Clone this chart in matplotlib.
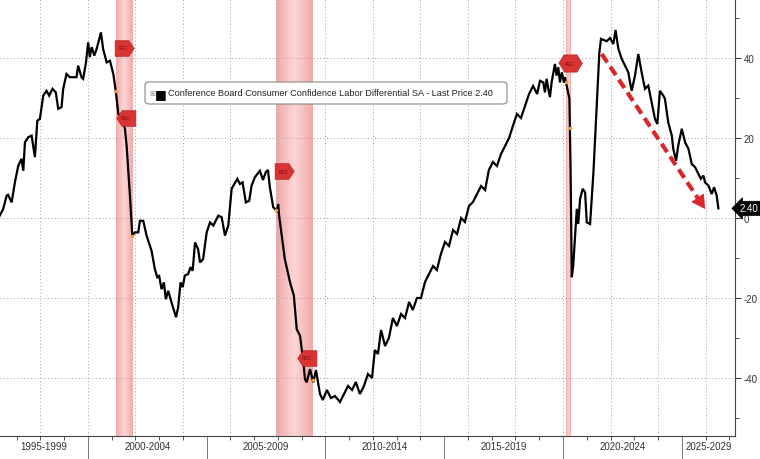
import matplotlib.pyplot as plt
import matplotlib.transforms as mtransforms
from matplotlib.colors import LinearSegmentedColormap
from matplotlib.patches import FancyBboxPatch
import numpy as np

plt.rcParams['font.family'] = ['Liberation Sans', 'DejaVu Sans']
plt.rcParams['axes.unicode_minus'] = False

# monthly-ish readings (decimal years, index points)
dates = [
    1996.29, 1996.43, 1996.58, 1996.64, 1996.79, 1996.93, 1997.07, 1997.21, 1997.28, 1997.35,
    1997.49, 1997.63, 1997.77, 1997.87, 1997.98, 1998.12, 1998.26, 1998.37, 1998.51, 1998.65,
    1998.75, 1998.89, 1998.96, 1999.10, 1999.24, 1999.52, 1999.59, 1999.73, 1999.80, 1999.92,
    2000.01, 2000.08, 2000.16, 2000.27, 2000.37, 2000.55, 2000.64, 2000.79, 2000.93, 2001.07,
    2001.18, 2001.28, 2001.42, 2001.56, 2001.63, 2001.77, 2001.87, 2001.98, 2002.12, 2002.19,
    2002.33, 2002.47, 2002.68, 2002.82, 2002.92, 2003.00, 2003.10, 2003.20, 2003.28, 2003.38,
    2003.52, 2003.71, 2003.80, 2003.90, 2003.99, 2004.08, 2004.22, 2004.32, 2004.41, 2004.51,
    2004.64, 2004.72, 2004.85, 2005.00, 2005.14, 2005.28, 2005.49, 2005.63, 2005.77, 2005.91,
    2006.05, 2006.29, 2006.40, 2006.51, 2006.65, 2006.79, 2006.89, 2007.03, 2007.24, 2007.37,
    2007.49, 2007.58, 2007.66, 2007.80, 2007.95, 2008.01, 2008.05, 2008.16, 2008.29, 2008.51,
    2008.67, 2008.79, 2008.93, 2009.07, 2009.14, 2009.21, 2009.35, 2009.49, 2009.60, 2009.77,
    2009.89, 2010.06, 2010.23, 2010.40, 2010.61, 2010.78, 2010.95, 2011.12, 2011.28, 2011.45,
    2011.62, 2011.79, 2011.96, 2012.08, 2012.21, 2012.34, 2012.51, 2012.67, 2012.84, 2013.01,
    2013.18, 2013.35, 2013.52, 2013.68, 2013.85, 2014.02, 2014.19, 2014.36, 2014.53, 2014.69,
    2014.86, 2015.03, 2015.20, 2015.37, 2015.54, 2015.71, 2015.87, 2016.04, 2016.21, 2016.38,
    2016.55, 2016.72, 2016.88, 2017.05, 2017.22, 2017.39, 2017.56, 2017.73, 2017.89, 2018.06,
    2018.23, 2018.40, 2018.57, 2018.74, 2018.91, 2019.03, 2019.17, 2019.24, 2019.31, 2019.38,
    2019.45, 2019.52, 2019.66, 2019.73, 2019.80, 2019.87, 2019.95, 2020.04, 2020.08, 2020.18,
    2020.27, 2020.32, 2020.37, 2020.43, 2020.58, 2020.64, 2020.72, 2020.83, 2020.93, 2021.00,
    2021.14, 2021.28, 2021.42, 2021.53, 2021.60, 2021.71, 2021.84, 2021.98, 2022.12, 2022.21,
    2022.33, 2022.47, 2022.61, 2022.75, 2022.82, 2022.89, 2023.03, 2023.17, 2023.31, 2023.45,
    2023.59, 2023.73, 2023.87, 2023.97, 2024.08, 2024.22, 2024.29, 2024.43, 2024.58, 2024.64,
    2024.76, 2024.85, 2025.00, 2025.14, 2025.28, 2025.42, 2025.56, 2025.70, 2025.80, 2025.91,
    2025.98, 2026.12, 2026.26, 2026.36, 2026.47, 2026.54,
]
values = [
    0.6, 2.2, 5.6, 5.8, 3.9, 9.0, 13.1, 14.8, 11.8, 18.9,
    20.2, 20.6, 15.2, 24.3, 24.8, 30.6, 31.8, 30.6, 32.3, 31.4,
    27.3, 27.7, 32.3, 36.0, 35.2, 35.2, 38.1, 35.2, 34.8, 38.9,
    43.9, 40.2, 42.7, 40.6, 42.3, 46.4, 42.3, 38.9, 39.3, 36.0,
    31.4, 26.0, 25.2, 22.3, 18.1, 5.6, -4.4, -3.6, -3.6, -0.7,
    -0.7, -4.4, -8.2, -12.8, -14.8, -14.5, -17.8, -16.1, -20.3, -18.2,
    -21.1, -24.8, -22.3, -16.1, -17.3, -14.4, -14.0, -12.3, -13.2, -6.1,
    -7.8, -11.1, -10.3, -3.6, -1.1, -1.9, 0.6, 0.2, -4.4, -1.9,
    7.3, 9.8, 8.5, 8.9, 3.9, 4.3, 8.1, 10.2, 11.8, 9.5,
    11.5, 12.0, 7.7, 2.7, 1.8, 3.5, 0.6, -4.4, -10.3, -16.1,
    -19.4, -27.8, -29.4, -36.1, -40.3, -41.1, -37.8, -41.1, -38.0, -44.0,
    -45.5, -43.0, -45.0, -44.5, -46.0, -44.0, -42.0, -43.0, -41.0, -44.0,
    -42.0, -39.0, -40.0, -33.0, -34.0, -28.0, -32.0, -30.0, -25.0, -27.0,
    -24.0, -25.0, -21.0, -23.0, -20.0, -20.0, -16.0, -14.0, -12.0, -13.0,
    -9.0, -6.0, -7.0, -3.0, -4.0, 0.0, -1.0, 3.0, 4.0, 6.0,
    8.0, 7.0, 12.0, 14.0, 13.0, 16.0, 18.0, 20.0, 23.0, 26.0,
    25.0, 28.0, 31.0, 33.0, 31.0, 34.3, 33.9, 31.4, 34.8, 32.3,
    30.2, 33.9, 38.5, 35.6, 37.7, 33.9, 36.4, 33.9, 35.2, 32.3,
    29.8, 11.4, -14.8, -11.9, 2.3, -1.5, 4.8, 7.3, 6.4, -1.1,
    -1.5, 11.4, 28.1, 41.4, 44.8, 44.5, 44.2, 45.0, 43.5, 47.0,
    42.3, 39.8, 38.1, 36.4, 33.9, 31.8, 35.6, 41.0, 36.4, 32.3,
    33.1, 28.9, 24.8, 23.5, 31.8, 30.6, 29.8, 23.9, 20.6, 17.3,
    14.3, 18.1, 22.3, 18.9, 17.3, 13.5, 12.7, 11.0, 9.8, 10.6,
    8.9, 8.1, 6.0, 7.7, 5.6, 2.4,
]
last_price = 2.40

recessions = [(2001.17, 2001.87), (2007.92, 2009.46), (2020.12, 2020.29)]
period_starts = [1995, 2000, 2005, 2010, 2015, 2020, 2025]
period_labels = ['1995-1999', '2000-2004', '2005-2009', '2010-2014',
                 '2015-2019', '2020-2024', '2025-2029']

# red dashed trend arrow drawn on the chart
trend_start = (2021.63, 41.0)
trend_end = (2025.98, 2.25)

# REC event flags (x, y, pointing side)
rec_tags = [(2001.52, 42.5, 'r'), (2001.60, 25.0, 'l'), (2008.25, 11.75, 'r'),
            (2009.22, -35.0, 'l'), (2020.29, 38.75, 'b')]

legend_label = 'Conference Board Consumer Confidence Labor Differential SA - Last Price 2.40'

W, H = 760, 460
fig = plt.figure(figsize=(W / 100, H / 100), dpi=100)
ax = fig.add_axes([0, 23 / H, 735 / W, 437 / H])
x0, x1 = 1996.3, 2027.24
y0, y1 = -54.5, 54.75

# recession bands, darker at the edges
band_cmap = LinearSegmentedColormap.from_list('band', ['#f3a9a9', '#fbd6d6', '#f3a9a9'])
for a, b in recessions:
    ax.imshow(np.linspace(0, 1, 64)[None, :], cmap=band_cmap, aspect='auto',
              extent=(a, b, y0, y1), zorder=0, interpolation='bilinear')

grid_kw = dict(color='#a0a0a0', lw=0.7, ls=(0, (1, 2.5)), zorder=1)
for yr in range(1998, 2028, 2):
    ax.axvline(yr, **grid_kw)
for v in [-40, -20, 0, 20, 40]:
    ax.axhline(v, **grid_kw)

ax.plot(dates, values, color='black', lw=1.6, zorder=3, solid_joinstyle='miter')

# small orange points where the recessions start / end
edges = [e for r in recessions for e in r]
ax.plot(edges, np.interp(edges, dates, values), 'o', ms=2.6, color='#f0a02c',
        mec='none', zorder=4)

# flag shapes for the REC markers
tag_shapes = {
    'r': [(-1, -0.8), (0.45, -0.8), (1, 0), (0.45, 0.8), (-1, 0.8)],
    'l': [(1, -0.8), (-0.45, -0.8), (-1, 0), (-0.45, 0.8), (1, 0.8)],
    'b': [(-0.6, -0.8), (0.6, -0.8), (1.1, 0), (0.6, 0.8), (-0.6, 0.8), (-1.1, 0)],
}
for tx, ty, side in rec_tags:
    size = 17 if side == 'b' else 14
    ax.plot(tx, ty, marker=tag_shapes[side], ms=size, color='#d83434', mec='#b52020',
            mew=0.5, zorder=5, ls='none')
    ax.text(tx, ty, 'REC', fontsize=3.4, color='#7a1010', ha='center', va='center',
            zorder=6)

# trend arrow: dashed shaft + solid head
sx, sy = trend_start
ex, ey = trend_end
hx, hy = ex - 0.06 * (ex - sx), ey - 0.06 * (ey - sy)
ax.plot([sx, hx], [sy, hy], color='#d8262b', lw=3.0, ls=(0, (2.4, 1.3)),
        solid_capstyle='butt', zorder=4)
ax.annotate('', xy=(ex, ey), xytext=(hx, hy),
            arrowprops=dict(arrowstyle='-|>,head_length=0.75,head_width=0.42',
                            fc='#d8262b', ec='#d8262b', lw=0.5, mutation_scale=12,
                            shrinkA=0, shrinkB=0),
            zorder=4)

ax.set_xlim(x0, x1)
ax.set_ylim(y0, y1)

for s in ['left', 'top']:
    ax.spines[s].set_visible(False)
for s in ['right', 'bottom']:
    ax.spines[s].set_color('#444444')
    ax.spines[s].set_linewidth(0.8)

ax.yaxis.tick_right()
ax.set_yticks([-40, -20, 0, 20, 40])
ax.set_yticks([-50, -30, -10, 10, 30, 50], minor=True)
ax.tick_params(axis='y', which='major', length=4, width=0.8, colors='#444444',
               labelsize=7, labelcolor='#333333', pad=2)
ax.tick_params(axis='y', which='minor', length=3, width=0.7, colors='#444444')

ax.set_xticks([s for s in period_starts if x0 < s < x1])
ax.set_xticklabels([])
ax.set_xticks(range(1997, 2028), minor=True)
ax.tick_params(axis='x', which='major', length=16.6, width=0.7, colors='#777777')
ax.tick_params(axis='x', which='minor', length=3, width=0.7, colors='#555555')

trans = mtransforms.blended_transform_factory(ax.transData, ax.transAxes)
for s, lab in zip(period_starts, period_labels):
    a, b = max(s, x0), min(s + 5, x1)
    ax.text((a + b) / 2, -10 / 437, lab, transform=trans, ha='center', va='center',
            fontsize=7, color='#333333')

# last price tag on the right axis
ytrans = mtransforms.blended_transform_factory(ax.transAxes, ax.transData)
ax.text(1 + 14 / 735, last_price, f'{last_price:.2f}', transform=ytrans, ha='center',
        va='center', fontsize=7, color='white', clip_on=False, zorder=6,
        bbox=dict(boxstyle='larrow,pad=0.22', fc='black', ec='black', lw=0.5))

# legend box
fig.add_artist(FancyBboxPatch((145 / W, 1 - 105 / H), 362 / W, 22 / H,
                              boxstyle='round,pad=0,rounding_size=0.006',
                              transform=fig.transFigure, fc='white', ec='#8a8a8a',
                              lw=0.8, zorder=10))
fig.text(152 / W, 1 - 94 / H, '\u229e', fontsize=5, color='#888888', ha='center',
         va='center', zorder=11, family='DejaVu Sans')
fig.text(161 / W, 1 - 94.5 / H, '\u25a0', fontsize=9, color='black', ha='center',
         va='center', zorder=11, family='DejaVu Sans')
fig.text(168 / W, 1 - 94 / H, legend_label, fontsize=6.6, color='#222222',
         ha='left', va='center', zorder=11)

fig.savefig('out.png', dpi=100, facecolor='white')
